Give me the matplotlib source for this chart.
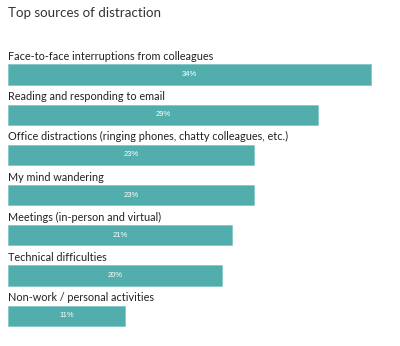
import matplotlib.pyplot as plt

# Veriler
kategoriler = [
    "Face-to-face interruptions from colleagues",
    "Reading and responding to email",
    "Office distractions (ringing phones, chatty colleagues, etc.)",
    "My mind wandering",
    "Meetings (in-person and virtual)",
    "Technical difficulties",
    "Non-work / personal activities",
]
yuzdeler = [34, 29, 23, 23, 21, 20, 11]
baslik = "Top sources of distraction"

renk = "#52aeac"
yazi_fontu = ["Lato", "DejaVu Sans"]

fig = plt.figure(figsize=(4.0, 3.46), dpi=100)
ax = fig.add_axes([0, 0, 1, 1])

# piksel olcegi: 1% ~ 10.68 px, sol kenar 8 px; satir araligi 40.2 px
px_per = 10.68
ax.set_xlim(-8 / px_per, (400 - 8) / px_per)
ax.set_ylim((346 - 74.5) / 40.2, -74.5 / 40.2)
ax.axis("off")

y = list(range(len(kategoriler)))
ax.barh(y, yuzdeler, height=0.5, color=renk, edgecolor="#7cc4c2", linewidth=0.5)

for i, (kat, v) in enumerate(zip(kategoriler, yuzdeler)):
    ax.text(0, i - 0.36, kat, ha="left", va="baseline", fontsize=7.8,
            family=yazi_fontu, color="#222222")
    ax.text(v / 2, i, f"{v}%", ha="center", va="center", fontsize=5.5,
            family="Liberation Sans", color="white")

fig.text(8 / 400, 1 - 17 / 346, baslik, ha="left", va="baseline",
         fontsize=9.6, family=yazi_fontu, color="#333333")

fig.savefig("out.png", dpi=100)
